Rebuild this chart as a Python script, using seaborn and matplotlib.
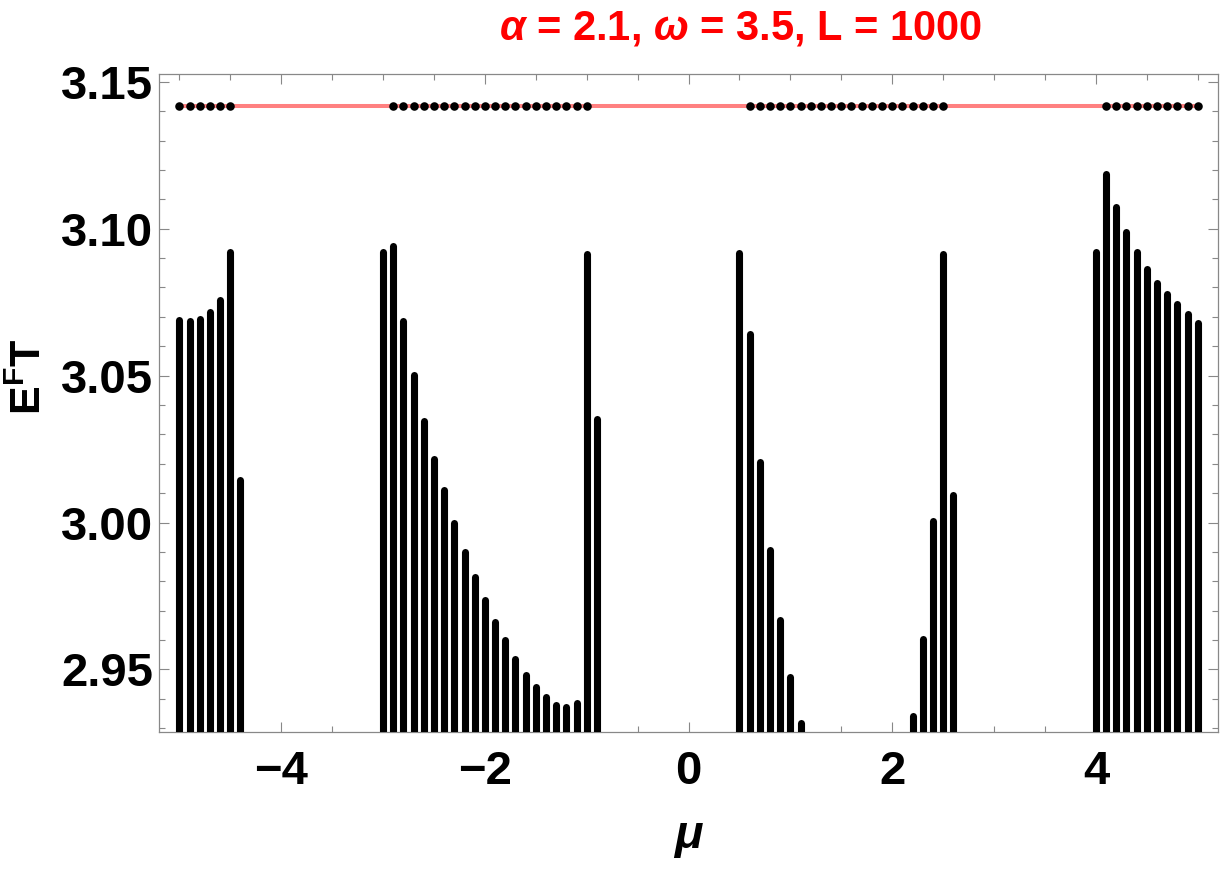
import numpy as np
import pandas as pd
import matplotlib.pyplot as plt
from matplotlib.ticker import MultipleLocator, FormatStrFormatter
import seaborn as sns

OUTPUT_FILE = "out.png"

sns.set_style("ticks")
plt.rcParams["font.family"] = ["Liberation Sans", "DejaVu Sans"]
plt.rcParams["text.color"] = "black"
plt.rcParams["mathtext.fontset"] = "custom"
plt.rcParams["mathtext.rm"] = "Liberation Sans:bold"
plt.rcParams["mathtext.bf"] = "Liberation Sans:bold"
plt.rcParams["mathtext.it"] = "Liberation Sans:italic:bold"

# mu of every column of quasi-energies and the top of each column
column_mu = [
    -5.0, -4.9, -4.8, -4.7, -4.6, -4.5, -4.4,
    -3.0, -2.9, -2.8, -2.7, -2.6, -2.5, -2.4, -2.3, -2.2, -2.1, -2.0,
    -1.9, -1.8, -1.7, -1.6, -1.5, -1.4, -1.3, -1.2, -1.1, -1.0, -0.9,
    0.5, 0.6, 0.7, 0.8, 0.9, 1.0, 1.1,
    2.2, 2.3, 2.4, 2.5, 2.6,
    4.0, 4.1, 4.2, 4.3, 4.4, 4.5, 4.6, 4.7, 4.8, 4.9, 5.0,
]
column_top = [
    3.0689, 3.0687, 3.0694, 3.0716, 3.0759, 3.0920, 3.0144,
    3.0919, 3.0942, 3.0685, 3.0501, 3.0346, 3.0217, 3.0111, 2.9997, 2.9901, 2.9816, 2.9735,
    2.9662, 2.9599, 2.9537, 2.9482, 2.9441, 2.9406, 2.9378, 2.9373, 2.9385, 3.0914, 3.0351,
    3.0917, 3.0643, 3.0206, 2.9905, 2.9667, 2.9475, 2.9317,
    2.9342, 2.9602, 3.0005, 3.0914, 3.0092,
    3.0921, 3.1187, 3.1074, 3.0989, 3.0921, 3.0864, 3.0816, 3.0779, 3.0744, 3.0709, 3.0679,
]

# mu values that also have a quasi-energy at pi
pi_mu = [
    -5.0, -4.9, -4.8, -4.7, -4.6, -4.5,
    -2.9, -2.8, -2.7, -2.6, -2.5, -2.4, -2.3, -2.2, -2.1, -2.0,
    -1.9, -1.8, -1.7, -1.6, -1.5, -1.4, -1.3, -1.2, -1.1, -1.0,
    0.6, 0.7, 0.8, 0.9, 1.0, 1.1, 1.2, 1.3, 1.4, 1.5,
    1.6, 1.7, 1.8, 1.9, 2.0, 2.1, 2.2, 2.3, 2.4, 2.5,
    4.1, 4.2, 4.3, 4.4, 4.5, 4.6, 4.7, 4.8, 4.9, 5.0,
]
pi_level = np.pi
line_mu = [-5.0, 5.0]

df_cols = pd.DataFrame({"mu": column_mu, "top": column_top})
df_pi = pd.DataFrame({"mu": pi_mu, "E": [pi_level] * len(pi_mu)})
df_line = pd.DataFrame({"mu": line_mu, "E": [pi_level] * len(line_mu)})

fig = plt.figure(figsize=(12.23, 8.69), dpi=100)
ax = fig.add_axes([0.130, 0.158, 0.866, 0.757])

# reference line at pi
sns.lineplot(data=df_line, x="mu", y="E", color="#FF8080", linewidth=2.9, ax=ax, zorder=2)

# columns of dots, drawn as round-capped strokes from below the frame
ax.vlines(df_cols["mu"], 2.90, df_cols["top"], colors="black", linewidth=5.1,
          capstyle="round", zorder=3)

sns.scatterplot(data=df_pi, x="mu", y="E", color="black", s=38, linewidth=0, ax=ax, zorder=4)

ax.set_xlim(-5.2, 5.2)
ax.set_ylim(2.9288, 3.1527)
ax.set_xticks([-4, -2, 0, 2, 4])
ax.set_yticks([2.95, 3.00, 3.05, 3.10, 3.15])
ax.xaxis.set_minor_locator(MultipleLocator(0.5))
ax.yaxis.set_minor_locator(MultipleLocator(0.01))
ax.yaxis.set_major_formatter(FormatStrFormatter("%.2f"))
ax.tick_params(which="both", direction="in", top=True, right=True, color="#888888",
               width=0.8, labelcolor="black")
ax.tick_params(which="major", length=7)
ax.tick_params(which="minor", length=4)
ax.tick_params(axis="x", which="major", labelsize=34, pad=13)
ax.tick_params(axis="y", which="major", labelsize=34, pad=4)
for lab in ax.get_xticklabels() + ax.get_yticklabels():
    lab.set_fontweight("bold")
for sp in ax.spines.values():
    sp.set_color("#888888")
    sp.set_linewidth(0.9)
ax.set_xlabel("")
ax.set_ylabel("")

fig.text(688 / 1223, 1 - 836 / 869, "μ", fontsize=34, fontstyle="italic",
         fontweight="bold", ha="center", va="center")
fig.text(30 / 1223, 1 - 377 / 869, r"$\mathbf{E^{F}T}$", fontsize=31, rotation=90,
         ha="center", va="center")
fig.text(741 / 1223, 1 - 28 / 869, r"$\alpha$ = 2.1, $\omega$ = 3.5, L = 1000",
         fontsize=30, fontweight="bold", color="#FF0000", ha="center", va="center")

plt.savefig(OUTPUT_FILE, dpi=100)
plt.close()
